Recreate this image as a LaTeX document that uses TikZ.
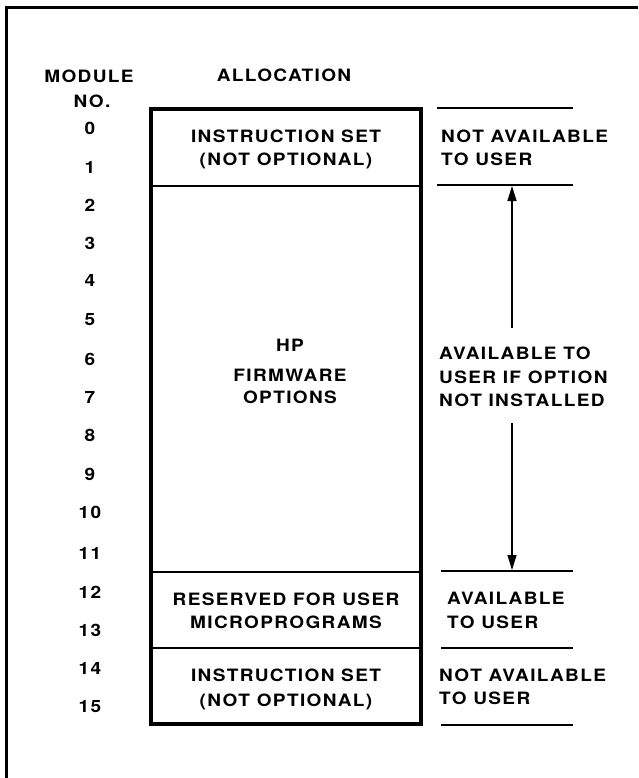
\documentclass[tikz,border=0pt]{standalone}
\usepackage{fontspec}
\usetikzlibrary{arrows.meta}
\newfontfamily\lblfont{TeX Gyre Heros}[LetterSpace=8,FakeStretch=1.12]
\begin{document}
\begin{tikzpicture}[x=1pt,y=-1pt,
  every node/.style={inner sep=0pt, font=\lblfont\bfseries\fontsize{17}{20}\selectfont},
  ctr/.style={anchor=base},
  lft/.style={anchor=base west},
  thickbox/.style={line width=3.5pt},
  divider/.style={line width=2.2pt},
  rule/.style={line width=2pt},
  arr/.style={line width=1.2pt, -{Triangle[length=15pt,width=9pt]}}]
\useasboundingbox (0,0) rectangle (638,778);
% frame
\draw[line width=3pt] (638,7.5) -- (6.5,7.5) -- (6.5,778);
% headings
\node[ctr] (hmod) at (89,83) {MODULE};
\node[ctr] (hno) at (92,108) {NO.};
\node[ctr] (halloc) at (284,82) {ALLOCATION};
% module numbers
\foreach \n/\y in {0/129,1/168,2/205,3/243,4/280,5/319,6/359,7/397,8/435,9/474,10/512,11/553,12/592,13/630,14/668,15/706}
  \node[ctr] (m\n) at (90,\y+6) {\n};
% box
\draw[divider] (151,186) -- (421,186);
\draw[divider] (151,572) -- (421,572);
\draw[divider] (151,648) -- (421,648);
\draw[thickbox] (151,109) rectangle (421,724);
% box texts
\node[ctr] (b1a) at (286,143) {INSTRUCTION SET};
\node[ctr] (b1b) at (286,166) {(NOT OPTIONAL)};
\node[ctr] (b2a) at (290,351) {HP};
\node[ctr] (b2b) at (290,381) {FIRMWARE};
\node[ctr] (b2c) at (290,403) {OPTIONS};
\node[ctr] (b3a) at (286,605) {RESERVED FOR USER};
\node[ctr] (b3b) at (286,628) {MICROPROGRAMS};
\node[ctr] (b4a) at (286,681) {INSTRUCTION SET};
\node[ctr] (b4b) at (286,706) {(NOT OPTIONAL)};
% right rules
\draw[rule] (437,108) -- (573,108);
\draw[rule] (437,185) -- (573,185);
\draw[rule] (441,571) -- (573,571);
\draw[rule] (441,648) -- (573,648);
\draw[rule] (441,725) -- (573,725);
% right texts
\node[lft] (r1a) at (441,143) {NOT AVAILABLE};
\node[lft] (r1b) at (441,166) {TO USER};
\node[lft] (r2a) at (439,359) {AVAILABLE TO};
\node[lft] (r2b) at (439,383) {USER IF OPTION};
\node[lft] (r2c) at (439,406) {NOT INSTALLED};
\node[lft] (r3a) at (447,604) {AVAILABLE};
\node[lft] (r3b) at (447,628) {TO USER};
\node[lft] (r4a) at (439,681) {NOT AVAILABLE};
\node[lft] (r4b) at (439,704) {TO USER};
% arrows
\coordinate (atop) at (512,186);
\coordinate (aup) at (512,328);
\coordinate (adown) at (512,423);
\coordinate (abot) at (512,570);
\draw[arr] (aup) -- (atop);
\draw[arr] (adown) -- (abot);
\end{tikzpicture}
\end{document}
